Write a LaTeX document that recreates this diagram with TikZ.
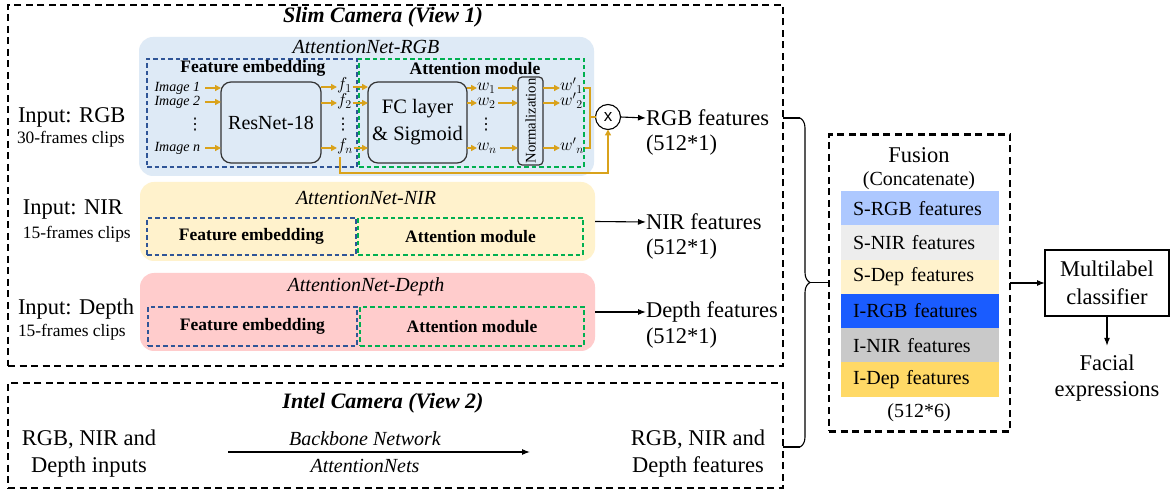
\documentclass[tikz,border=0pt]{standalone}
\usepackage{fontspec}
\setmainfont{Liberation Serif}
\setsansfont{Liberation Sans}
\newfontfamily\dotsfont{DejaVu Sans}
\usetikzlibrary{arrows.meta,decorations.pathreplacing,calc}
\definecolor{rgbbg}{HTML}{DEEAF6}
\definecolor{nirbg}{HTML}{FFF2CC}
\definecolor{depbg}{HTML}{FFCCCC}
\definecolor{feblue}{HTML}{2F5597}
\definecolor{amgreen}{HTML}{00B050}
\definecolor{goldc}{HTML}{D9A21B}
\definecolor{srgb}{HTML}{ADC8FF}
\definecolor{snir}{HTML}{EDEDED}
\definecolor{sdep}{HTML}{FFF2CC}
\definecolor{irgb}{HTML}{1A5CFF}
\definecolor{inir}{HTML}{C9C9C9}
\definecolor{idep}{HTML}{FFD966}
\begin{document}
\begin{tikzpicture}[x=1pt,y=-1pt,
  every node/.style={inner sep=0pt,outer sep=0pt},
  big/.style={font=\fontsize{22.5}{27}\selectfont},
  small/.style={font=\fontsize{17.4}{20}\selectfont},
  camtitle/.style={font=\fontsize{22}{26}\selectfont\bfseries\itshape},
  nettitle/.style={font=\fontsize{20}{24}\selectfont\itshape},
  subtitle/.style={font=\fontsize{17.5}{20}\selectfont\bfseries},
  imgtxt/.style={font=\fontsize{14}{16}\selectfont\itshape, anchor=east},
  mathlbl/.style={font=\fontsize{16.5}{17}\selectfont, anchor=west, text height=8pt, text depth=2.5pt},
  vdotsty/.style={font=\fontsize{16}{16}\dotsfont},
  cambox/.style={draw, line width=2.2pt, dash pattern=on 7pt off 4.5pt},
  netbox/.style={rounded corners=14pt},
  febox/.style={draw=feblue, line width=1.3pt, dash pattern=on 4.5pt off 3pt},
  ambox/.style={draw=amgreen, line width=1.3pt, dash pattern=on 4.5pt off 3pt},
  block/.style={draw=black!80, line width=1.2pt, rounded corners=10pt},
  garr/.style={draw=goldc, line width=1.5pt, -{Triangle[length=6pt,width=6pt]}},
  gline/.style={draw=goldc, line width=1.5pt},
  karr/.style={line width=1.1pt, -{Latex[length=8pt,width=6pt]}},
  kline/.style={line width=1.1pt},
  bar/.style={minimum width=157.5pt, minimum height=34.3pt, inner xsep=12pt, text width=133.5pt, align=left, anchor=north west, font=\fontsize{20}{22}\selectfont}
]
\fill[white] (0,0) rectangle (1171,494);
\useasboundingbox (0,0) rectangle (1171,494);

% ---------- Slim camera ----------
\node[cambox, minimum width=775pt, minimum height=361pt] (slim) at (395.5,185.5) {};
\node[camtitle] (slimt) at (383,17) {Slim Camera (View 1)};

% RGB network
\node[netbox, fill=rgbbg, minimum width=455pt, minimum height=139pt] (rgbnet) at (366.5,106.5) {};
\node[nettitle] (rgbt) at (366,47) {AttentionNet-RGB};
\node[febox, minimum width=210pt, minimum height=108pt] (rgbfe) at (252,113) {};
\node[ambox, minimum width=225pt, minimum height=108pt] (rgbam) at (471.5,113) {};
\node[subtitle] (rgbfet) at (253,68.5) {Feature embedding};
\node[subtitle] (rgbamt) at (475,68.5) {Attention module};

\node[imgtxt] (im1) at (200,88) {Image 1};
\node[imgtxt] (im2) at (200,102) {Image 2};
\node[vdotsty] (imd) at (195,125) {⋮};
\node[imgtxt] (imn) at (200,148) {Image \textit{n}};

\node[block, minimum width=100pt, minimum height=81pt, font=\fontsize{20}{24}\selectfont] (res) at (271,122.5) {ResNet-18};

\node[mathlbl] (f1) at (337,87) {$f_1$};
\node[mathlbl] (f2) at (337,103) {$f_2$};
\node[vdotsty] (fd) at (343,125) {⋮};
\node[mathlbl] (fn) at (337,148) {$f_n$};

\node[block, minimum width=99pt, minimum height=81pt, align=center, font=\fontsize{20.5}{27}\selectfont] (fc) at (417.5,122.5) {FC layer\\\& Sigmoid};

\node[mathlbl] (w1) at (477,88) {$w_1$};
\node[mathlbl] (w2) at (477,103) {$w_2$};
\node[vdotsty] (wd) at (486,125) {⋮};
\node[mathlbl] (wn) at (477,148) {$w_n$};

\node[block, rounded corners=4pt, minimum width=25pt, minimum height=88pt] (norm) at (530.5,121) {};
\node[rotate=90, font=\fontsize{14.7}{16}\selectfont] (normt) at (norm.center) {Normalization};

\node[mathlbl] (wp1) at (560,88) {${w'}_{1}$};
\node[mathlbl] (wp2) at (560,103) {${w'}_{2}$};
\node[mathlbl] (wpn) at (560,148) {${w'}_{n}$};

\node[circle, draw, line width=1.1pt, minimum size=25pt, font=\fontsize{17}{17}\selectfont\sffamily] (mult) at (608,117) {x};

% gold arrows
\draw[garr] ([xshift=5pt]im1.east) -- (res.west |- im1.east);
\draw[garr] ([xshift=5pt]im2.east) -- (res.west |- im2.east);
\draw[garr] ([xshift=5pt]imn.east) -- (res.west |- imn.east);
\draw[garr] (res.east |- f1.west) -- (f1.west);
\draw[garr] (res.east |- f2.west) -- (f2.west);
\draw[garr] (res.east |- fn.west) -- (fn.west);
\draw[garr] ([xshift=1pt]f1.east) -- (fc.west |- f1.east);
\draw[garr] ([xshift=1pt]f2.east) -- (fc.west |- f2.east);
\draw[garr] ([xshift=1pt]fn.east) -- (fc.west |- fn.east);
\draw[garr] (fc.east |- w1.west) -- (w1.west);
\draw[garr] (fc.east |- w2.west) -- (w2.west);
\draw[garr] (fc.east |- wn.west) -- (wn.west);
\draw[garr] ([xshift=3pt]w1.east) -- (norm.west |- w1.east);
\draw[garr] ([xshift=3pt]w2.east) -- (norm.west |- w2.east);
\draw[garr] ([xshift=3pt]wn.east) -- (norm.west |- wn.east);
\draw[garr] (norm.east |- wp1.west) -- (wp1.west);
\draw[garr] (norm.east |- wp2.west) -- (wp2.west);
\draw[garr] (norm.east |- wpn.west) -- (wpn.west);
\coordinate (bt) at (590,88);
\coordinate (bb) at (590,148);
\coordinate (bm) at (590,117);
\draw[gline] ([xshift=1pt]wp1.east |- bt) -- (bt) -- (bb) -- ([xshift=1pt]wpn.east |- bb);
\draw[gline] (bm) -- (mult.west);
\coordinate (fnl) at (608,173);
\draw[garr] ([xshift=3pt,yshift=-4pt]fn.south west) |- (fnl) -- (mult.south);

% inputs
\node[big, anchor=west] (inrgb) at (18,117) {Input: RGB};
\node[small, anchor=west] (inrgbs) at (17,139) {30-frames clips};
\node[big, anchor=west] (innir) at (23,210) {Input: NIR};
\node[small, anchor=west] (innirs) at (23,234) {15-frames clips};
\node[big, anchor=west] (indep) at (18,309) {Input: Depth};
\node[small, anchor=west] (indeps) at (18,332) {15-frames clips};

% RGB output
\node[big, anchor=west] (rgbf) at (646,118) {RGB features};
\node[big, anchor=west] (rgbd) at (646,145) {(512*1)};
\draw[karr] (mult.east) -- (rgbf.west);

% NIR network
\node[netbox, fill=nirbg, minimum width=455pt, minimum height=79pt] (nirnet) at (367.5,221.5) {};
\node[nettitle] (nirt) at (366,198) {AttentionNet-NIR};
\node[febox, minimum width=209pt, minimum height=37pt] (nirfe) at (251.5,236.5) {};
\node[ambox, minimum width=225pt, minimum height=37pt] (niram) at (470.5,236.5) {};
\node[subtitle] at (nirfe.center) {Feature embedding};
\node[subtitle] at (niram.center) {Attention module};
\node[big, anchor=west] (nirf) at (646,222) {NIR features};
\node[big, anchor=west] (nird) at (646,249) {(512*1)};
\draw[karr] (nirnet.east) -- (nirf.west);

% Depth network
\node[netbox, fill=depbg, minimum width=455pt, minimum height=78pt] (depnet) at (367.5,312) {};
\node[nettitle] (dept) at (366,287) {AttentionNet-Depth};
\node[febox, minimum width=209pt, minimum height=39pt] (depfe) at (252.5,326.5) {};
\node[ambox, minimum width=224pt, minimum height=39pt] (depam) at (472,326.5) {};
\node[subtitle] at (depfe.center) {Feature embedding};
\node[subtitle] at (depam.center) {Attention module};
\node[big, anchor=west] (depf) at (646,312) {Depth features};
\node[big, anchor=west] (depd) at (646,338) {(512*1)};
\draw[karr] (depnet.east) -- (depf.west);

% ---------- Intel camera ----------
\node[cambox, minimum width=775pt, minimum height=105pt] (intel) at (395.5,435.5) {};
\node[camtitle] (intelt) at (383,403) {Intel Camera (View 2)};
\node[big, align=center] (intin) at (89,453.5) {RGB, NIR and\\Depth inputs};
\node[big, align=center] (intout) at (698,454) {RGB, NIR and\\Depth features};
\coordinate (bbs) at (228,452);
\coordinate (bbe) at (530,452);
\draw[karr] (bbs) -- (bbe);
\node[nettitle] (bbt) at (365,439) {Backbone Network};
\node[nettitle] (bbb) at (365,466) {AttentionNets};

% ---------- brace ----------
\coordinate (brt) at (800,118);
\coordinate (brb) at (800,447);
\coordinate (brtip) at (810,282.5);
\draw[kline] (slim.east |- brt) -- (brt);
\draw[kline] (intel.east |- brb) -- (brb);
\draw[kline, decorate, decoration={brace, amplitude=10pt}] (brt) -- (brb);

% ---------- Fusion ----------
\node[cambox, minimum width=181pt, minimum height=297pt] (fusion) at (919.5,283) {};
\draw[kline] (brtip) -- (fusion.west |- brtip);
\node[big] (fust) at (919,155) {Fusion};
\node[font=\fontsize{20}{22}\selectfont] (fusc) at (919,181) {(Concatenate)};
\node[bar, fill=srgb] (b1) at (841,191) {S-RGB features};
\node[bar, fill=snir] (b2) at (841,225.3) {S-NIR features};
\node[bar, fill=sdep] (b3) at (841,259.6) {S-Dep features};
\node[bar, fill=irgb] (b4) at (841,293.9) {I-RGB features};
\node[bar, fill=inir] (b5) at (841,328.2) {I-NIR features};
\node[bar, fill=idep] (b6) at (841,362.5) {I-Dep features};
\node[font=\fontsize{20}{22}\selectfont] (fusd) at (919,413) {(512*6)};

% ---------- classifier ----------
\node[draw, line width=1.1pt, minimum width=124pt, minimum height=66pt, align=center, font=\fontsize{22.5}{28}\selectfont] (ml) at (1107,283) {Multilabel\\classifier};
\draw[karr] (fusion.east |- ml.west) -- (ml.west);
\node[align=center, font=\fontsize{22.5}{26}\selectfont] (facial) at (1107,378) {Facial\\expressions};
\draw[karr] (ml.south) -- ([yshift=9pt]facial.north);
\end{tikzpicture}
\end{document}
